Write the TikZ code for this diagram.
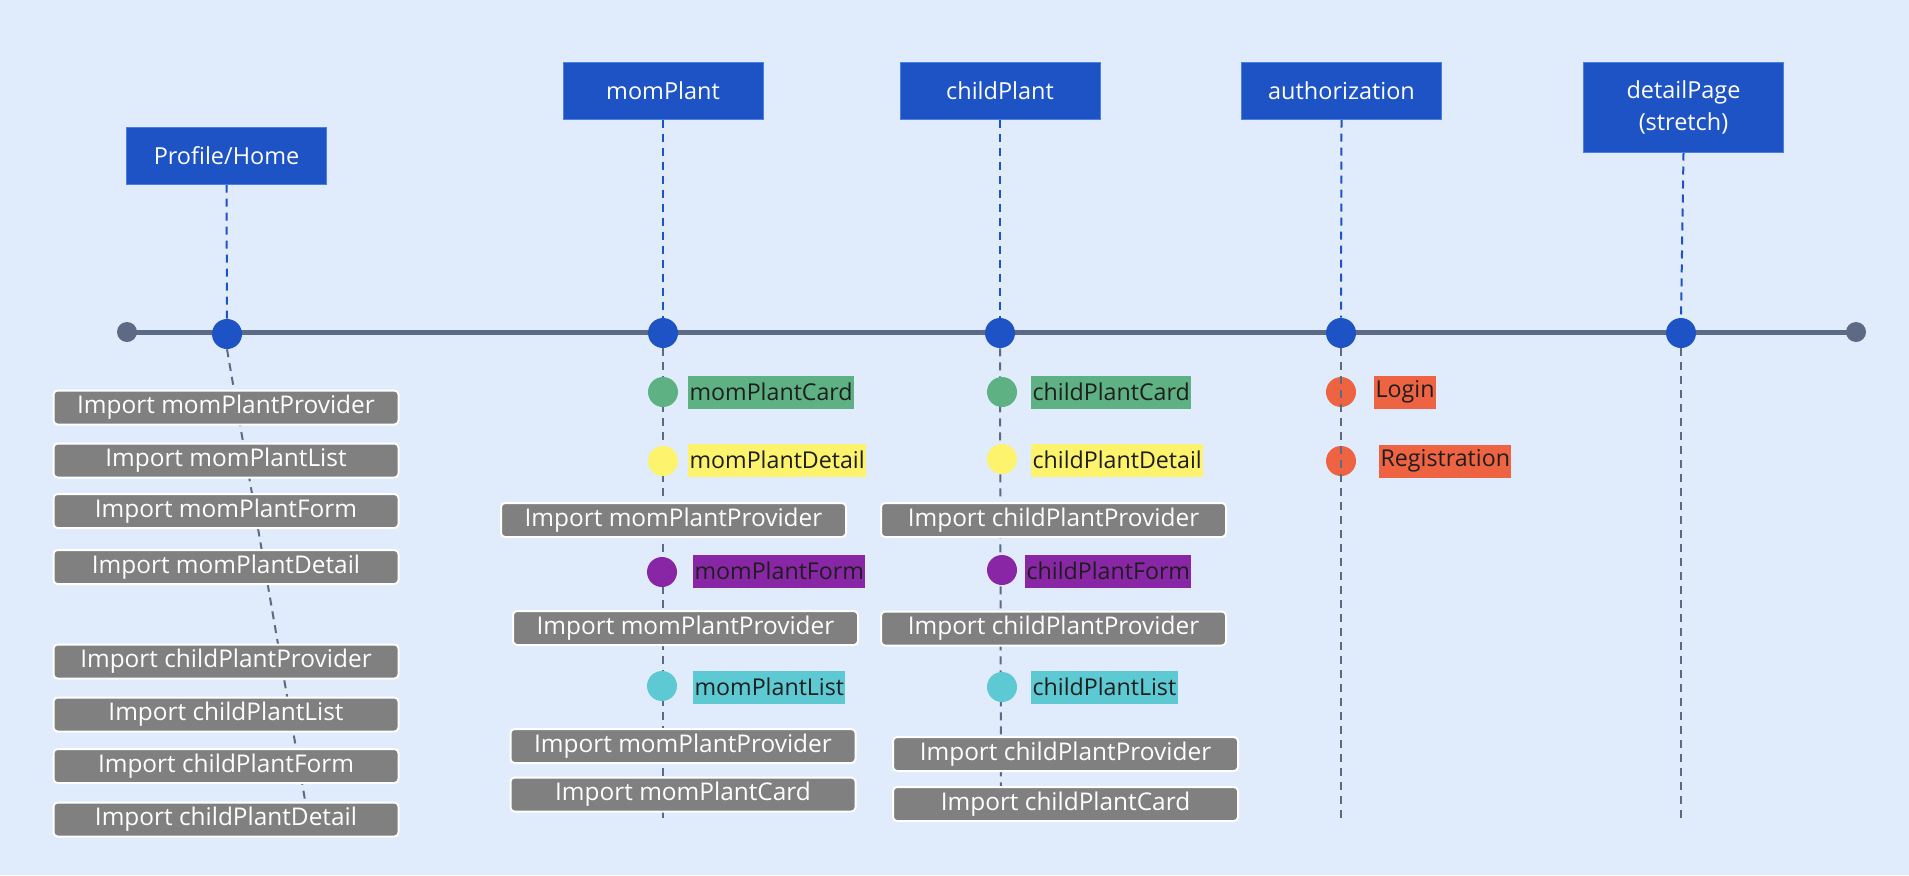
\documentclass[tikz,border=0pt]{standalone}
\usepackage{fontspec}
\setmainfont{Open Sans}
\usetikzlibrary{calc}
\definecolor{bgblue}{HTML}{E0EBFB}
\definecolor{hdrblue}{HTML}{1D53C5}
\definecolor{hdredge}{HTML}{4C80E2}
\definecolor{axisgray}{HTML}{5D6A86}
\definecolor{impgray}{HTML}{808080}
\definecolor{cgreen}{HTML}{5DB183}
\definecolor{cyellow}{HTML}{FDF36C}
\definecolor{cpurple}{HTML}{8926A6}
\definecolor{ccyan}{HTML}{5DCAD3}
\definecolor{corange}{HTML}{EE6342}
\definecolor{lbltext}{HTML}{1E1E1E}
\pgfdeclarelayer{canvas}
\pgfdeclarelayer{lines}
\pgfsetlayers{canvas,lines,main}
\begin{document}
\begin{tikzpicture}[x=0.75pt,y=-0.75pt,
  hdr/.style={fill=hdrblue,draw=hdredge,line width=0.75pt,text=white,
    font=\fontsize{17.6}{24}\selectfont,align=center,inner sep=0pt,
    minimum width=150pt,minimum height=42.75pt},
  imp/.style={fill=impgray,draw=white,line width=1.5pt,rounded corners=3pt,
    text=white,font=\fontsize{18.3}{22}\selectfont,inner sep=0pt,
    minimum width=258.75pt,minimum height=25.5pt},
  lbl/.style={anchor=west,inner xsep=1pt,inner ysep=0pt,minimum height=24.75pt,
    text=lbltext,font=\fontsize{17.4}{20}\selectfont},
  mdot/.style={circle,fill=hdrblue,minimum size=22.5pt,inner sep=0pt},
  cdot/.style={circle,fill=#1,minimum size=22.5pt,inner sep=0pt},
  enddot/.style={circle,fill=axisgray,minimum size=15pt,inner sep=0pt},
  bluedash/.style={draw=hdrblue,line width=1.5pt,dash pattern=on 6pt off 4.5pt},
  graydash/.style={draw=axisgray,line width=1.5pt,dash pattern=on 6pt off 4.5pt}
]
% canvas
\begin{pgfonlayer}{canvas}
  \fill[bgblue] (0,0) rectangle (1909,875);
\end{pgfonlayer}
\useasboundingbox (0,0) rectangle (1909,875);

% headers
\node[hdr] (hProfile) at (226.5,155.5) {Profile/Home};
\node[hdr] (hMom) at (663,90.5) {momPlant};
\node[hdr] (hChild) at (1000,90.5) {childPlant};
\node[hdr] (hAuth) at (1341.5,90.5) {authorization};
\node[hdr,minimum height=67.5pt] (hDetail) at (1683.5,107) {detailPage\\(stretch)};

% timeline
\node[enddot] (tStart) at (127,332) {};
\node[enddot] (tEnd) at (1856,332) {};
\begin{pgfonlayer}{lines}
  \draw[axisgray,line width=3.75pt] (tStart.center) -- (tEnd.center);
\end{pgfonlayer}
\node[mdot] (dProfile) at (227,334) {};
\node[mdot] (dMom) at (663,333) {};
\node[mdot] (dChild) at (1000,333) {};
\node[mdot] (dAuth) at (1341,333) {};
\node[mdot] (dDetail) at (1681,333) {};

% lower ends of the stems
\coordinate (eProfile) at (305,800);
\coordinate (eMom) at (663,823);
\coordinate (eChild) at (1001,823);
\coordinate (eAuth) at (1341,823);
\coordinate (eDetail) at (1681,823);

\begin{pgfonlayer}{lines}
  \draw[bluedash] (hProfile.south) -- (dProfile.north);
  \draw[bluedash] (hMom.south) -- (dMom.north);
  \draw[bluedash] (hChild.south) -- (dChild.north);
  \draw[bluedash] (hAuth.south) -- (dAuth.north);
  \draw[bluedash] (hDetail.south) -- (dDetail.north);
  \draw[graydash] (dProfile.south) -- (eProfile);
  \draw[graydash] (dMom.south) -- (eMom);
  \draw[graydash] (dChild.south) -- (eChild);
  \draw[graydash] (dDetail.south) -- (eDetail);
\end{pgfonlayer}

% Profile/Home imports
\node[imp] (p1) at (226,407.5) {Import momPlantProvider};
\node[imp] (p2) at (226,460.5) {Import momPlantList};
\node[imp] (p3) at (226,511) {Import momPlantForm};
\node[imp] (p4) at (226,567) {Import momPlantDetail};
\node[imp] (p5) at (226,661.5) {Import childPlantProvider};
\node[imp] (p6) at (226,714.5) {Import childPlantList};
\node[imp] (p7) at (226,766) {Import childPlantForm};
\node[imp] (p8) at (226,819.5) {Import childPlantDetail};

% momPlant
\node[cdot=cgreen] (mc) at (663,392) {};
\node[lbl,fill=cgreen] (mcl) at (688,392) {momPlantCard};
\node[cdot=cyellow] (md) at (663,461) {};
\node[lbl,fill=cyellow] (mdl) at (688,460) {momPlantDetail};
\node[imp] (m1) at (673.5,520) {Import momPlantProvider};
\node[cdot=cpurple] (mf) at (662,572) {};
\node[lbl,fill=cpurple] (mfl) at (693,571) {momPlantForm};
\node[imp] (m2) at (685.5,628) {Import momPlantProvider};
\node[cdot=ccyan] (ml) at (662,686) {};
\node[lbl,fill=ccyan] (mll) at (693,687) {momPlantList};
\node[imp] (m3) at (683,746) {Import momPlantProvider};
\node[imp] (m4) at (683,794.5) {Import momPlantCard};

% childPlant
\node[cdot=cgreen] (cc) at (1002,392) {};
\node[lbl,fill=cgreen] (ccl) at (1031,392) {childPlantCard};
\node[cdot=cyellow] (cd) at (1002,459) {};
\node[lbl,fill=cyellow] (cdl) at (1031,460) {childPlantDetail};
\node[imp] (c1) at (1053.5,520) {Import childPlantProvider};
\node[cdot=cpurple] (cf) at (1002,570) {};
\node[lbl,fill=cpurple] (cfl) at (1025,571) {childPlantForm};
\node[imp] (c2) at (1053.5,628.5) {Import childPlantProvider};
\node[cdot=ccyan] (cl) at (1002,687) {};
\node[lbl,fill=ccyan] (cll) at (1031,687) {childPlantList};
\node[imp] (c3) at (1065.5,754) {Import childPlantProvider};
\node[imp] (c4) at (1065.5,804) {Import childPlantCard};

% authorization
\node[cdot=corange] (al) at (1341,392) {};
\node[lbl,fill=corange] (all) at (1374,392) {Login};
\node[cdot=corange] (ar) at (1341,461) {};
\node[lbl,fill=corange] (arl) at (1379,461) {Registration};
\draw[graydash] (dAuth.south) -- (eAuth);
\end{tikzpicture}
\end{document}
